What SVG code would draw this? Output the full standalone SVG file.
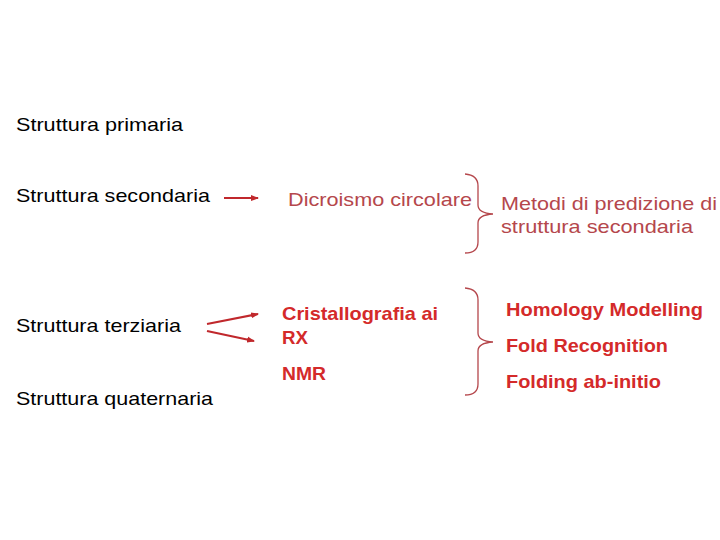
<svg xmlns="http://www.w3.org/2000/svg" width="720" height="540" viewBox="0 0 720 540">
<style>
text{font-family:"Liberation Sans",Arial,sans-serif;font-size:19px}
.k{fill:#000}
.m{fill:#B5474C}
.r{fill:#D42A2A;font-weight:bold}
.b{fill:none;stroke:#B5474C;stroke-width:1.3}
.a{stroke:#C0282C;stroke-width:2.2;fill:none}
</style>
<defs><marker id="ar" markerWidth="8" markerHeight="8" refX="7" refY="4" orient="auto" markerUnits="userSpaceOnUse"><path d="M0,1 L8,4 L0,7z" fill="#C0282C"/></marker></defs>
<rect width="720" height="540" fill="#fff"/>
<g id="n1"><text class="k" x="16" y="131" textLength="167" lengthAdjust="spacingAndGlyphs">Struttura primaria</text></g>
<g id="n2"><text class="k" x="16" y="202" textLength="194" lengthAdjust="spacingAndGlyphs">Struttura secondaria</text></g>
<g id="n3"><text class="k" x="16" y="332" textLength="165" lengthAdjust="spacingAndGlyphs">Struttura terziaria</text></g>
<g id="n4"><text class="k" x="16" y="405" textLength="197" lengthAdjust="spacingAndGlyphs">Struttura quaternaria</text></g>
<g id="n5"><text class="m" x="288" y="206" textLength="184" lengthAdjust="spacingAndGlyphs">Dicroismo circolare</text></g>
<g id="n6"><text class="r" x="282" y="320" textLength="156" lengthAdjust="spacingAndGlyphs">Cristallografia ai</text><text class="r" x="282" y="344" textLength="26" lengthAdjust="spacingAndGlyphs">RX</text></g>
<g id="n7"><text class="r" x="282" y="380" textLength="44" lengthAdjust="spacingAndGlyphs">NMR</text></g>
<g id="n8"><text class="m" x="501" y="210" textLength="216" lengthAdjust="spacingAndGlyphs">Metodi di predizione di</text><text class="m" x="501" y="233" textLength="192" lengthAdjust="spacingAndGlyphs">struttura secondaria</text></g>
<g id="n9"><text class="r" x="506" y="316" textLength="197" lengthAdjust="spacingAndGlyphs">Homology Modelling</text></g>
<g id="n10"><text class="r" x="506" y="352" textLength="162" lengthAdjust="spacingAndGlyphs">Fold Recognition</text></g>
<g id="n11"><text class="r" x="506" y="388" textLength="155" lengthAdjust="spacingAndGlyphs">Folding ab-initio</text></g>
<g id="connectors">
<line class="a" x1="224" y1="198" x2="258" y2="198" marker-end="url(#ar)"/>
<line class="a" x1="207" y1="324" x2="258" y2="314" marker-end="url(#ar)"/>
<line class="a" x1="207" y1="331" x2="254" y2="341" marker-end="url(#ar)"/>
<path class="b" d="M465,174 Q478,175 478,186 L478,205 Q478,213 493,214 Q478,215 478,223 L478,242 Q478,253 465,253"/>
<path class="b" d="M465,288 Q478,289 478,300 L478,333 Q478,341 493,342 Q478,343 478,351 L478,384 Q478,395 465,395"/>
</g>
</svg>
